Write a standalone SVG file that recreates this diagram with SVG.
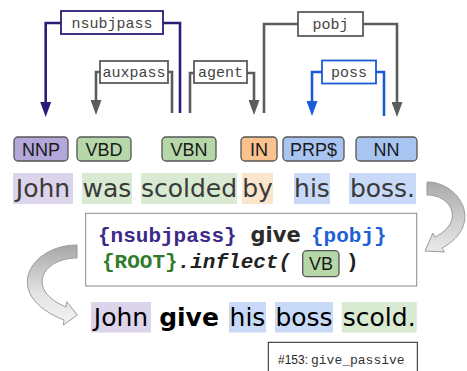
<svg xmlns="http://www.w3.org/2000/svg" width="467" height="371" viewBox="0 0 467 371">
<style>
.edge{fill:none;stroke-width:2.6}
.pur{stroke:#2e1a78}
.gry{stroke:#5c5c5c}
.blu{stroke:#1c5bd6}
.lbl{fill:#fff;stroke-width:1.8}
.lt{font-family:"Liberation Mono",monospace;font-size:15px;fill:#444;text-anchor:middle}
.tag{stroke:#555;stroke-width:1.3}
.tt{font-family:"Liberation Sans",Arial,sans-serif;font-size:18px;fill:#1a1a1a;text-anchor:middle}
.w{font-family:"DejaVu Sans",Verdana,sans-serif;font-size:25px;text-anchor:middle}
.up{fill:#3a3a3a}
.lo{fill:#000}
.code{font-family:"Liberation Mono","Courier New",monospace;font-size:21px;font-weight:bold}
.pu{fill:#3b2a8a}.gr{fill:#2f7d2a}.bl{fill:#1f5fd8}
.fnnp{fill:#b4a7d9}.fvb{fill:#b6d7a8}.fin{fill:#f9c28f}.fnn{fill:#a8c5f2}
.hnnp{fill:#dcd4eb}.hvb{fill:#d9ead3}.hin{fill:#fce5cd}.hnn{fill:#c9daf8}
.band{stroke:#9a9a9a;stroke-width:1}
</style>
<defs>
<marker id="ap" viewBox="0 0 15 11" refX="0" refY="5.5" markerWidth="15" markerHeight="11" markerUnits="userSpaceOnUse" orient="auto"><path d="M0,0 L15,5.5 L0,11 z" fill="#2e1a78"/></marker>
<marker id="ag" viewBox="0 0 15 11" refX="0" refY="5.5" markerWidth="15" markerHeight="11" markerUnits="userSpaceOnUse" orient="auto"><path d="M0,0 L15,5.5 L0,11 z" fill="#5c5c5c"/></marker>
<marker id="ab" viewBox="0 0 15 11" refX="0" refY="5.5" markerWidth="15" markerHeight="11" markerUnits="userSpaceOnUse" orient="auto"><path d="M0,0 L15,5.5 L0,11 z" fill="#1c5bd6"/></marker>
<linearGradient id="gR" x1="0" y1="181" x2="0" y2="262" gradientUnits="userSpaceOnUse"><stop offset="0" stop-color="#a9a9a9"/><stop offset="1" stop-color="#f4f4f4"/></linearGradient>
<linearGradient id="gL" x1="0" y1="245" x2="0" y2="333" gradientUnits="userSpaceOnUse"><stop offset="0" stop-color="#a6a6a6"/><stop offset="0.55" stop-color="#e4e4e4"/><stop offset="1" stop-color="#f6f6f6"/></linearGradient>
</defs>

<g id="connectors">
  <path class="edge pur" d="M180,113 V23 H45.7 V102" marker-end="url(#ap)"/>
  <path class="edge gry" d="M172,113 V72 H96 V100" marker-end="url(#ag)"/>
  <path class="edge gry" d="M190,113 V73 H254 V100" marker-end="url(#ag)"/>
  <path class="edge gry" d="M264,113 V24 H397 V102" marker-end="url(#ag)"/>
  <path class="edge blu" d="M384,116 V72 H312 V101" marker-end="url(#ab)"/>
  <g id="lbl-nsubjpass"><rect class="lbl pur" x="61" y="11" width="102" height="23"/><text class="lt" x="112" y="27.5">nsubjpass</text></g>
  <g id="lbl-auxpass"><rect class="lbl gry" x="100" y="61" width="68" height="22"/><text class="lt" x="134" y="76.5">auxpass</text></g>
  <g id="lbl-agent"><rect class="lbl gry" x="194" y="61" width="53" height="22"/><text class="lt" x="220.5" y="76.5">agent</text></g>
  <g id="lbl-pobj"><rect class="lbl gry" x="298" y="12" width="65" height="24"/><text class="lt" x="330.5" y="28.5">pobj</text></g>
  <g id="lbl-poss"><rect class="lbl blu" x="322" y="60.5" width="54" height="23"/><text class="lt" x="349" y="76.5">poss</text></g>
</g>

<g id="tag-NNP"><rect class="tag fnnp" x="14" y="137" width="54" height="24" rx="4"/><text class="tt" x="41" y="155.5">NNP</text></g>
<g id="tag-VBD"><rect class="tag fvb" x="77" y="137" width="54" height="24" rx="4"/><text class="tt" x="104" y="155.5">VBD</text></g>
<g id="tag-VBN"><rect class="tag fvb" x="162" y="137" width="54" height="24" rx="4"/><text class="tt" x="189" y="155.5">VBN</text></g>
<g id="tag-IN"><rect class="tag fin" x="241" y="137" width="36" height="24" rx="4"/><text class="tt" x="259" y="155.5">IN</text></g>
<g id="tag-PRP"><rect class="tag fnn" x="283" y="137" width="61" height="24" rx="4"/><text class="tt" x="313.5" y="155.5">PRP$</text></g>
<g id="tag-NN"><rect class="tag fnn" x="356" y="137" width="61" height="24" rx="4"/><text class="tt" x="386.5" y="155.5">NN</text></g>

<g id="word-John"><rect class="hnnp" x="13" y="173" width="60" height="31"/><text class="w up" x="43" y="197">John</text></g>
<g id="word-was"><rect class="hvb" x="82" y="173" width="50" height="31"/><text class="w up" x="107" y="197">was</text></g>
<g id="word-scolded"><rect class="hvb" x="141" y="173" width="96" height="31"/><text class="w up" x="189" y="197">scolded</text></g>
<g id="word-by"><rect class="hin" x="242" y="173" width="31" height="31"/><text class="w up" x="257.5" y="197">by</text></g>
<g id="word-his"><rect class="hnn" x="294" y="173" width="36" height="31"/><text class="w up" x="312" y="197">his</text></g>
<g id="word-boss"><rect class="hnn" x="349" y="173" width="67" height="31"/><text class="w up" x="382.5" y="197">boss.</text></g>

<g id="arrow-right"><path class="band" fill="url(#gR)" d="M427,182 C460,182 485,225 442,248 L444.4,251.9 L425,251 L432.8,233.1 L435,237 C465,222 452,195 427,195 Z"/></g>

<g id="template">
  <rect x="85.7" y="213.3" width="331" height="72.7" fill="#fff" stroke="#8a8a8a" stroke-width="1"/>
  <text class="code pu" x="98" y="242">{nsubjpass}</text>
  <text x="250.5" y="242" font-family="'DejaVu Sans',Verdana,sans-serif" font-size="21" font-weight="bold" fill="#2a2a2a">give</text>
  <text class="code bl" x="311" y="242">{pobj}</text>
  <text class="code" x="102" y="268"><tspan class="gr">{ROOT}</tspan><tspan fill="#222" font-style="italic">.inflect(</tspan></text>
  <g id="tag-VB"><rect class="tag fvb" x="302.7" y="250.7" width="36.3" height="26" rx="4"/><text class="tt" x="321" y="270">VB</text></g>
  <text class="code" x="346" y="268" fill="#222">)</text>
</g>

<g id="arrow-left"><path class="band" fill="url(#gL)" d="M77,245 C30,245 0,295 64,320 L63.3,325 L77.3,315 L66.7,301.7 L66,307 C25,290 42,258 77,258 Z"/></g>

<g id="out-John"><rect class="hnnp" x="91" y="302" width="60" height="30.5"/><text class="w lo" x="121" y="326">John</text></g>
<g id="out-give"><text class="w lo" x="189" y="326" font-weight="bold">give</text></g>
<g id="out-his"><rect class="hnn" x="229" y="302" width="37" height="30.5"/><text class="w lo" x="247.5" y="326">his</text></g>
<g id="out-boss"><rect class="hnn" x="275" y="302" width="58" height="30.5"/><text class="w lo" x="304" y="326">boss</text></g>
<g id="out-scold"><rect class="hvb" x="341.7" y="302" width="75" height="30.5"/><text class="w lo" x="379.2" y="326">scold.</text></g>

<g id="caption">
  <rect x="268.3" y="342.3" width="149" height="40" fill="#fff" stroke="#222" stroke-width="1"/>
  <text x="278" y="364" font-family="'Liberation Sans',Arial,sans-serif" font-size="12" fill="#222">#153:</text>
  <text x="311" y="364" font-family="'Liberation Mono','Courier New',monospace" font-size="13" fill="#333">give_passive</text>
</g>
</svg>
